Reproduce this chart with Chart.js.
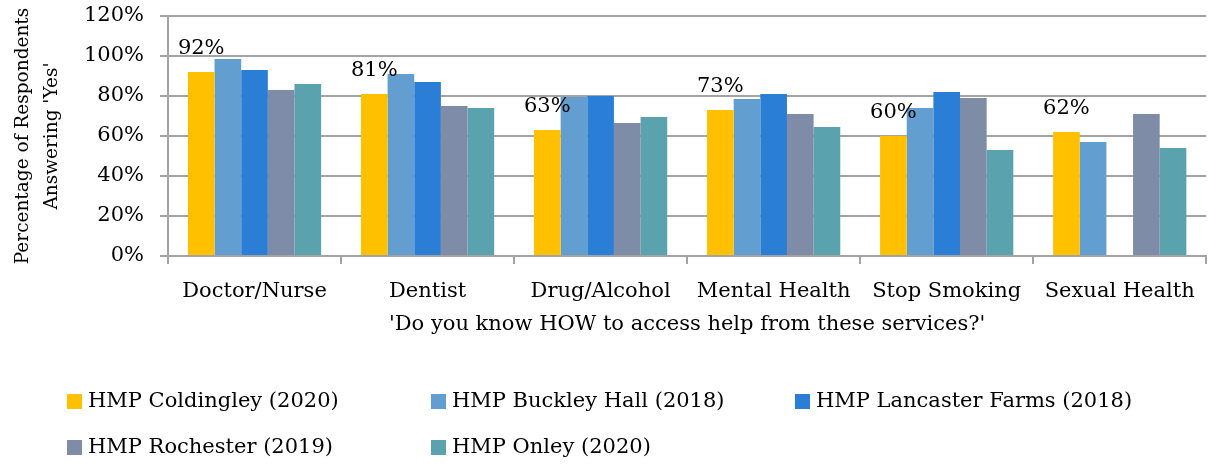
<!DOCTYPE html>
<html>
<head>
<meta charset="utf-8">
<script src="https://cdn.jsdelivr.net/npm/chart.js@4.4.0/dist/chart.umd.min.js"></script>
<style>
  html, body { margin: 0; padding: 0; background: #fff; }
  #wrap { width: 1210px; height: 465px; position: relative; }
</style>
</head>
<body>
<div id="wrap"><canvas id="accessChart"></canvas></div>
<script>
// Services asked about
const services = ['Doctor/Nurse', 'Dentist', 'Drug/Alcohol', 'Mental Health', 'Stop Smoking', 'Sexual Health'];

// % answering 'Yes' for each prison survey
const coldingley2020 = [92, 81, 63, 73, 60, 62];
const buckleyHall2018 = [98.5, 91, 79.5, 78.5, 74, 57];
const lancasterFarms2018 = [93, 87, 80, 81, 82, null];
const rochester2019 = [83, 75, 66.5, 71, 79, 71];
const onley2020 = [86, 74, 69.5, 64.5, 53, 54];

const yTicks = [0, 20, 40, 60, 80, 100, 120];

const seriesNames = [
  'HMP Coldingley (2020)',
  'HMP Buckley Hall (2018)',
  'HMP Lancaster Farms (2018)',
  'HMP Rochester (2019)',
  'HMP Onley (2020)'
];
const seriesColors = ['#FFC000', '#629ECF', '#2B7ED6', '#7F8CA8', '#5AA2AE'];

const FONT = "'DejaVu Serif', serif";
const gridGray = '#a3a3a3';

// value labels above the Coldingley bars only
const yellowLabels = {
  id: 'yellowLabels',
  afterDatasetsDraw(chart) {
    const ctx = chart.ctx;
    const meta = chart.getDatasetMeta(0);
    ctx.save();
    ctx.font = '21px ' + FONT;
    ctx.fillStyle = '#000';
    ctx.textAlign = 'center';
    ctx.textBaseline = 'alphabetic';
    meta.data.forEach((bar, i) => {
      const v = chart.data.datasets[0].data[i];
      if (v == null) return;
      ctx.fillText(v + '%', bar.x, bar.y - 18);
    });
    ctx.restore();
  }
};

// legend laid out in fixed columns, three per row
const gridLegend = {
  id: 'gridLegend',
  afterDraw(chart) {
    const ctx = chart.ctx;
    const base = chart.chartArea.bottom;
    ctx.save();
    ctx.font = '21px ' + FONT;
    ctx.textBaseline = 'middle';
    ctx.textAlign = 'left';
    chart.data.datasets.forEach((ds, i) => {
      const col = i % 3, row = Math.floor(i / 3);
      const x = 67 + col * 364;
      const y = base + 145 + row * 46;
      ctx.fillStyle = ds.backgroundColor;
      ctx.fillRect(x, y - 7, 15, 15);
      ctx.fillStyle = '#000';
      ctx.fillText(ds.label, x + 21, y + 1);
    });
    ctx.restore();
  }
};

const datasets = [coldingley2020, buckleyHall2018, lancasterFarms2018, rochester2019, onley2020]
  .map((vals, i) => ({
    label: seriesNames[i],
    data: vals,
    backgroundColor: seriesColors[i],
    borderWidth: 0,
    categoryPercentage: 0.77,
    barPercentage: 1.0
  }));

new Chart(document.getElementById('accessChart'), {
  type: 'bar',
  data: { labels: services, datasets: datasets },
  options: {
    responsive: true,
    maintainAspectRatio: false,
    animation: false,
    layout: { padding: { top: 0, right: 3, bottom: 128, left: 8 } },
    plugins: {
      legend: { display: false },
      tooltip: { enabled: false }
    },
    scales: {
      x: {
        grid: {
          offset: true,
          drawOnChartArea: false,
          drawTicks: true,
          tickLength: 8,
          color: gridGray,
          lineWidth: 2
        },
        border: { display: true, color: gridGray, width: 2 },
        ticks: { color: '#000', font: { family: FONT, size: 21 }, padding: 15, maxRotation: 0 },
        title: {
          display: true,
          text: "'Do you know HOW to access help from these services?'",
          color: '#000',
          font: { family: FONT, size: 21 },
          padding: { top: 2, bottom: 0 }
        },
        afterFit(scale) { scale.height = 81; }
      },
      y: {
        min: 0,
        max: 120,
        afterBuildTicks(scale) { scale.ticks = yTicks.map(v => ({ value: v })); },
        grid: {
          color: gridGray,
          lineWidth: 2,
          drawTicks: true,
          tickLength: 8
        },
        border: { display: true, color: gridGray, width: 2 },
        ticks: {
          color: '#000',
          font: { family: FONT, size: 21 },
          padding: 16,
          callback: v => v + '%'
        },
        title: {
          display: true,
          text: ['Percentage of Respondents', "Answering 'Yes'"],
          color: '#000',
          font: { family: FONT, size: 18.5, lineHeight: 1.6 },
          padding: { top: 0, bottom: 0 }
        },
        afterFit(scale) {
          scale.width = 160;
          // keep the plot top at 16px instead of label height + tick padding
          scale.paddingTop = 16;
          scale.paddingBottom = 0;
        }
      }
    }
  },
  plugins: [yellowLabels, gridLegend]
});
</script>
</body>
</html>
